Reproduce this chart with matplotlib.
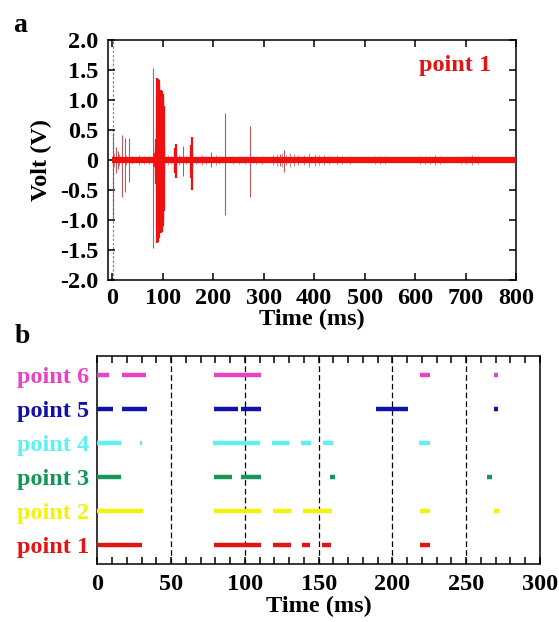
import matplotlib
matplotlib.use('Agg')
import matplotlib.pyplot as plt
import numpy as np

plt.rcParams['font.family'] = ['Liberation Serif', 'DejaVu Serif']
plt.rcParams['font.weight'] = 'bold'
plt.rcParams['font.size'] = 17.5

# ---- panel a: voltage trace at point 1 ----
baseline_t = [0, 800]
baseline_v = [0, 0]

# isolated spikes (ms, upper V, lower V)
spike_t = [1, 8, 11, 19, 24.5, 32.5, 80.5, 140.5, 195, 223, 272, 332, 340]
spike_up = [0.45, 0.22, 0.15, 0.42, 0.37, 0.37, 1.53, 0.23, 0.14, 0.79, 0.57, 0.1, 0.17]
spike_dn = [-0.95, -0.22, -0.15, -0.62, -0.53, -0.36, -1.47, -0.27, -0.11, -0.92, -0.61, -0.1, -0.2]

# dense burst, bright red
burst_t = [84, 86, 87, 88, 89, 90, 91, 92, 93, 94, 95, 96, 97, 98, 99, 100, 101, 102, 103,
           124, 125, 126, 127, 155, 156, 157, 158]
burst_up = [0.12, 0.2, 0.35, 1.1, 1.36, 1.35, 1.3, 1.33, 1.25, 0.9, 0.5, 0.75, 1.17, 1.15,
            1.12, 1.1, 1.05, 0.9, 0.3, 0.15, 0.2, 0.27, 0.12, 0.15, 0.25, 0.39, 0.12]
burst_dn = [-0.12, -0.25, -0.4, -1.15, -1.38, -1.36, -1.32, -1.3, -1.2, -0.95, -0.55, -0.8,
            -1.22, -1.2, -1.15, -1.1, -1.0, -0.85, -0.3, -0.15, -0.22, -0.3, -0.12, -0.2,
            -0.3, -0.5, -0.12]

# small ripples poking out of the baseline
ripple_t = [4, 14, 28, 40, 52, 63, 72, 110, 116, 133, 147, 165, 178, 186, 205, 212, 240,
            252, 262, 285, 296, 318, 326, 336, 345, 352, 360, 368, 380, 390, 402, 410, 420,
            430, 445, 455, 470, 520, 530, 540, 610, 620, 630, 640, 650, 690, 700, 712, 725]
ripple_a = [0.12, 0.1, 0.09, 0.06, 0.08, 0.07, 0.06, 0.08, 0.07, 0.08, 0.06, 0.07, 0.08,
            0.07, 0.08, 0.07, 0.06, 0.07, 0.06, 0.07, 0.06, 0.08, 0.1, 0.12, 0.09, 0.11, 0.1,
            0.08, 0.09, 0.12, 0.1, 0.08, 0.09, 0.07, 0.08, 0.07, 0.07, 0.07, 0.06, 0.07, 0.07,
            0.06, 0.07, 0.08, 0.06, 0.07, 0.06, 0.08, 0.06]

volt_ticks = [2.0, 1.5, 1.0, 0.5, 0, -0.5, -1.0, -1.5, -2.0]
volt_labels = ['2.0', '1.5', '1.0', '0.5', '0', '-0.5', '-1.0', '-1.5', '-2.0']
time_ticks_a = [0, 100, 200, 300, 400, 500, 600, 700, 800]

# ---- panel b: activity intervals per point (start ms, end ms) ----
point_names = ['point 1', 'point 2', 'point 3', 'point 4', 'point 5', 'point 6']
point_colors = ['#e31414', '#f2f20a', '#14985a', '#5ff0ef', '#1212a8', '#e843c3']
p1_segs = [(0, 30.5), (79, 110.7), (118.8, 131), (138.9, 144.1), (152.4, 158.1), (218.6, 225.8)]
p2_segs = [(0, 31), (79, 111), (118.8, 131), (139.2, 158.8), (218.6, 225.8), (269, 272)]
p3_segs = [(0, 16.2), (79, 91), (97.5, 111), (158, 161), (263.8, 267.2)]
p4_segs = [(0, 15.8), (28.8, 30.3), (78.5, 110), (118.1, 130.1), (138.2, 144.8),
           (152.7, 159.9), (218.2, 225.4)]
p5_segs = [(0, 10.9), (16.5, 33.4), (79, 95.5), (97.5, 111), (189, 210.7), (269, 271.7)]
p6_segs = [(0, 8.1), (16.5, 33), (79, 110.7), (218.6, 225.8), (269, 271.5)]
all_segs = [p1_segs, p2_segs, p3_segs, p4_segs, p5_segs, p6_segs]
guide_t = [50, 100, 150, 200, 250]

fig = plt.figure(figsize=(5.59, 6.22), dpi=100)

ax1 = fig.add_axes([0.1932, 0.5498, 0.730, 0.3859])
ax1.axvline(1, color='#888888', lw=0.9, ls=(0, (2, 1.5)), zorder=1)
ax1.plot(baseline_t, baseline_v, color='#f01010', lw=4.5, solid_capstyle='butt', zorder=3)
ax1.vlines(ripple_t, -np.array(ripple_a), ripple_a, color='#a83030', lw=0.5, alpha=0.8, zorder=2)
ax1.vlines(spike_t, spike_dn, spike_up, color='#b33a3a', lw=0.8, alpha=0.85, zorder=2)
ax1.vlines(burst_t, burst_dn, burst_up, color='#ee1111', lw=1.6, zorder=4)
ax1.set_xlim(-8.5, 800)
ax1.set_ylim(-2, 2)
ax1.set_xticks(time_ticks_a)
ax1.set_yticks(volt_ticks)
ax1.set_yticklabels(volt_labels)
ax1.tick_params(direction='in', length=5, width=1.1, top=True, right=True, pad=7)
ax1.tick_params(axis='x', pad=6)
ax1.set_xlabel('Time (ms)', fontweight='bold', labelpad=0)
ax1.set_ylabel('Volt (V)', fontweight='bold', labelpad=6)
ax1.text(0.939, 0.87, 'point 1', color='#e31414', fontweight='bold',
         transform=ax1.transAxes, ha='right', va='baseline')
for s in ax1.spines.values():
    s.set_linewidth(1.1)

ax2 = fig.add_axes([0.174, 0.0932, 0.792, 0.3344])
for x in guide_t:
    ax2.axvline(x, color='black', lw=0.9, ls=(0, (4.5, 2.5)), zorder=1)
for i, segs in enumerate(all_segs):
    starts = [a for a, b in segs]
    ends = [b for a, b in segs]
    ax2.hlines([i + 1] * len(segs), starts, ends, color=point_colors[i], lw=3.2, zorder=3)
ax2.set_xlim(0, 300)
ax2.set_ylim(0.44, 6.56)
ax2.set_xticks([0, 50, 100, 150, 200, 250, 300])
ax2.set_xticks(np.arange(0, 301, 10), minor=True)
ax2.set_yticks(range(1, 7))
ax2.set_yticklabels(point_names)
for lab, c in zip(ax2.get_yticklabels(), point_colors):
    lab.set_color(c)
ax2.tick_params(axis='x', which='both', direction='in', length=5, width=1.1, top=True, pad=7)
ax2.tick_params(axis='y', length=0, pad=6)
ax2.set_xlabel('Time (ms)', fontweight='bold', labelpad=1)
for s in ax2.spines.values():
    s.set_linewidth(1.1)

fig.text(0.024, 0.948, 'a', fontsize=20, fontweight='bold')
fig.text(0.027, 0.448, 'b', fontsize=20, fontweight='bold')

fig.savefig('out.png', dpi=100)
